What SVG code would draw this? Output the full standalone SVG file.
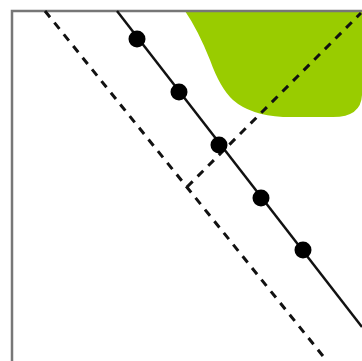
<svg xmlns="http://www.w3.org/2000/svg" width="362" height="361" viewBox="0 0 362 361">
<defs>
<style>
.frame{fill:none;stroke:#777;stroke-width:2.5}
.solid{stroke:#111;stroke-width:2.5;fill:none}
.dash{stroke:#111;stroke-width:3;fill:none;stroke-dasharray:8 7}
.dot{fill:#000}
</style>
</defs>
<rect x="0" y="0" width="362" height="361" fill="#fff"/>
<g id="region">
<path d="M185 11 L362 11 L362 95 Q361 117 333 117 L283 117 Q250 115 233 100 Q220 88 210 60 Q198 30 185 11 Z" fill="#99cc00"/>
</g>
<g id="frame">
<path class="frame" d="M12 361 L12 11 L362 11"/>
</g>
<g id="connectors">
<line class="solid" x1="117" y1="11" x2="362" y2="327"/>
<line class="dash" x1="45" y1="11" x2="327" y2="361"/>
<line class="dash" x1="187" y1="187" x2="361" y2="13"/>
</g>
<g id="points">
<circle class="dot" cx="137" cy="39" r="8.5"/>
<circle class="dot" cx="179" cy="92" r="8.5"/>
<circle class="dot" cx="219" cy="145" r="8.5"/>
<circle class="dot" cx="261" cy="198" r="8.5"/>
<circle class="dot" cx="303" cy="250" r="8.5"/>
</g>
</svg>
